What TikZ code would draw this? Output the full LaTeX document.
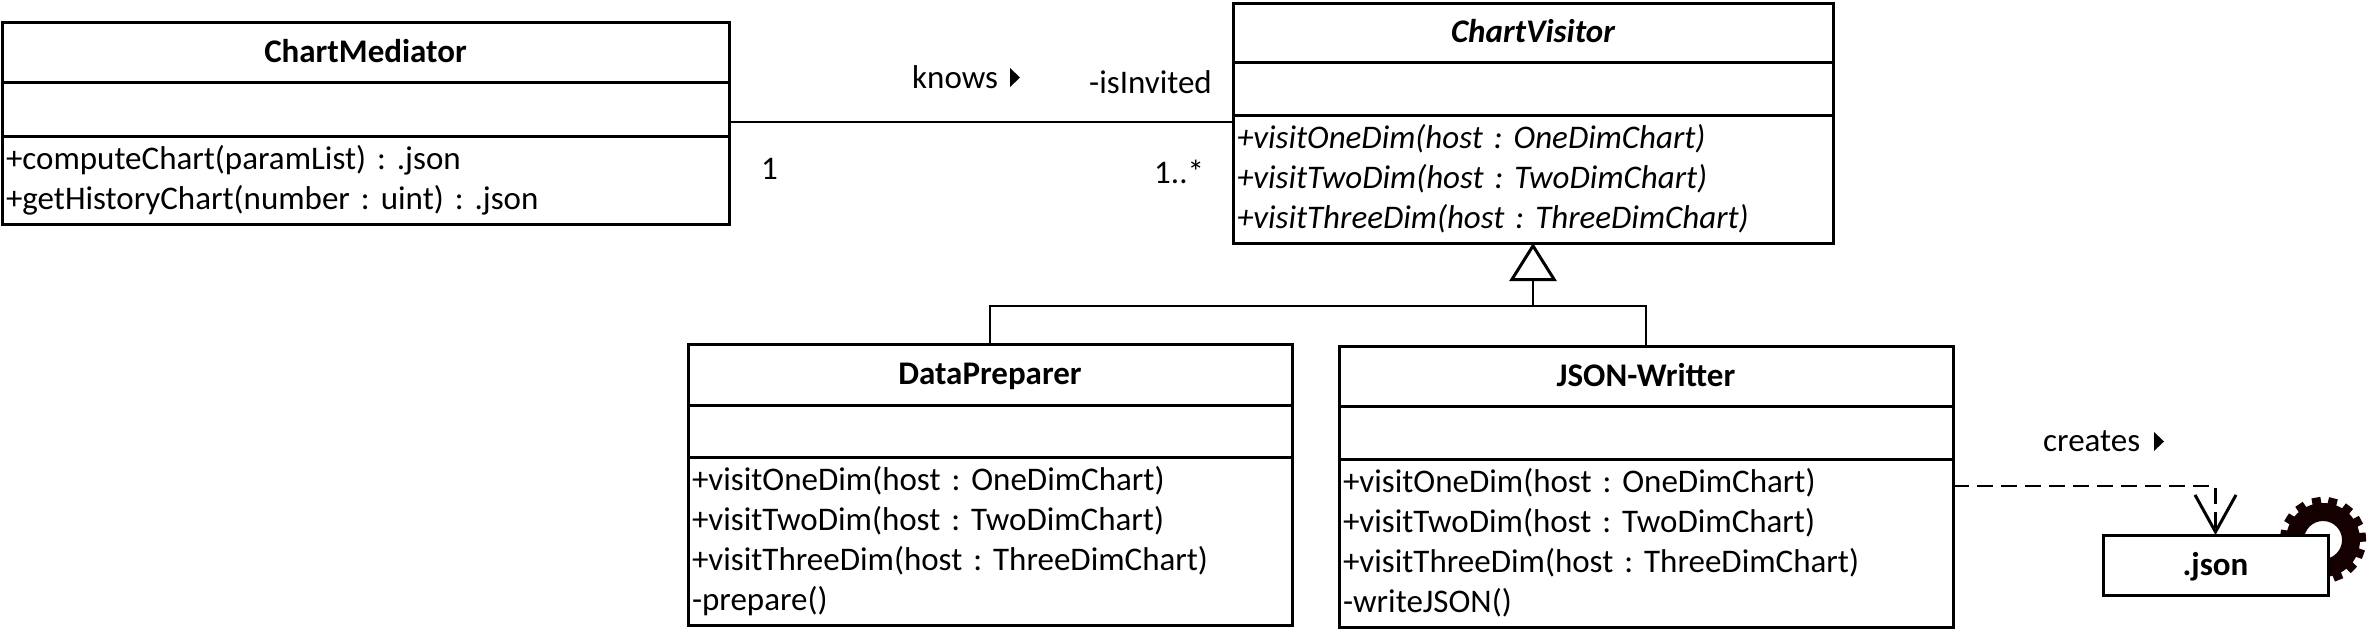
\documentclass[tikz,border=0pt]{standalone}
\usepackage{fontspec}
\setmainfont{Carlito}
\usepackage{tikz}
\usetikzlibrary{arrows.meta}
\usetikzlibrary{calc}
\frenchspacing
\newcommand{\opsstrut}{\rule[-10.5pt]{0pt}{40pt}}

\tikzset{
  classpart/.style={draw, line width=3pt, fill=white, anchor=north west, outer sep=0pt, inner sep=0pt},
  titlepart/.style={classpart, font=\fontsize{33}{35}\bfseries\selectfont, text height=24pt, text depth=4pt},
  opspart/.style={classpart, font=\fontsize{33}{40}\selectfont, align=left, inner xsep=4pt},
  tag/.style={font=\fontsize{33}{35}\selectfont, inner sep=0pt, anchor=base west},
  link/.style={line width=2.2pt},
  genlink/.style={link, -{Triangle[open,width=47pt,length=38pt,line width=3pt]}},
  deplink/.style={link, dash pattern=on 16pt off 8pt, -{Straight Barb[width=41pt,length=37pt,line width=3pt]}},
}

\begin{document}
\begin{tikzpicture}[x=1pt,y=-1pt]
\useasboundingbox (0,0) rectangle (2367,629);

% ChartMediator
\node[titlepart, minimum width=727pt, minimum height=60pt] (cmTitle) at (2,22) {ChartMediator};
\node[classpart, minimum width=727pt, minimum height=54pt] (cmAttr) at (2,82) {};
\node[opspart, minimum width=727pt, minimum height=88pt, text width=719pt] (cmOps) at (2,136) {
\opsstrut +computeChart(paramList) : .json\\
\opsstrut +getHistoryChart(number : uint) : .json};

% ChartVisitor
\node[titlepart, minimum width=600pt, minimum height=59pt, font=\fontsize{33}{35}\bfseries\itshape\selectfont] (cvTitle) at (1233,3) {ChartVisitor};
\node[classpart, minimum width=600pt, minimum height=53pt] (cvAttr) at (1233,62) {};
\node[opspart, minimum width=600pt, minimum height=128pt, text width=592pt, font=\fontsize{33}{40}\itshape\selectfont] (cvOps) at (1233,115) {
\opsstrut +visitOneDim(host : OneDimChart)\\
\opsstrut +visitTwoDim(host : TwoDimChart)\\
\opsstrut +visitThreeDim(host : ThreeDimChart)};

% DataPreparer
\node[titlepart, minimum width=604pt, minimum height=61pt] (dpTitle) at (688,344) {DataPreparer};
\node[classpart, minimum width=604pt, minimum height=52pt] (dpAttr) at (688,405) {};
\node[opspart, minimum width=604pt, minimum height=168pt, text width=596pt] (dpOps) at (688,457) {
\opsstrut +visitOneDim(host : OneDimChart)\\
\opsstrut +visitTwoDim(host : TwoDimChart)\\
\opsstrut +visitThreeDim(host : ThreeDimChart)\\
\opsstrut -prepare()};

% JSON-Writter
\node[titlepart, minimum width=614pt, minimum height=60pt] (jwTitle) at (1339,346) {JSON-Writter};
\node[classpart, minimum width=614pt, minimum height=53pt] (jwAttr) at (1339,406) {};
\node[opspart, minimum width=614pt, minimum height=168pt, text width=606pt] (jwOps) at (1339,459) {
\opsstrut +visitOneDim(host : OneDimChart)\\
\opsstrut +visitTwoDim(host : TwoDimChart)\\
\opsstrut +visitThreeDim(host : ThreeDimChart)\\
\opsstrut -writeJSON()};

% gear behind the file box
\coordinate (gearMid) at (2323,540);
\foreach \a in {0,24,...,336}
  \fill[black!92!red, rotate around={\a+10:(gearMid)}] ($(gearMid)+(-4.5,-43)$) rectangle ($(gearMid)+(4.5,-32)$);
\fill[black!92!red, even odd rule] (gearMid) circle (37) (gearMid) circle (19);

\node[titlepart, minimum width=225pt, minimum height=60pt] (jsonBox) at (2103,535) {.json};

% association
\draw[link] ([yshift=-13pt]cmAttr.east) -- ([yshift=57pt]cvOps.west);
\node[tag] (knowsLbl) at (912,88) {knows};
\fill (1010,68) -- (1020,77.5) -- (1010,87) -- cycle;
\node[tag] (invitedLbl) at (1089,93) {-isInvited};
\node[tag] (oneLbl) at (761,179) {1};
\node[tag] (manyLbl) at (1154,183) {1..*};

% generalization
\coordinate (genJoint) at ($(cvOps.south)+(0,63)$);
\draw[link] (dpTitle.north) |- (genJoint) -| (jwTitle.north);
\draw[genlink] (genJoint) -- (cvOps.south);

% dependency
\draw[deplink] ([yshift=57pt]jwOps.east) -| (jsonBox.north);
\node[tag] (createsLbl) at (2043,451) {creates};
\fill (2154,432) -- (2164,441.5) -- (2154,451) -- cycle;

\end{tikzpicture}
\end{document}
